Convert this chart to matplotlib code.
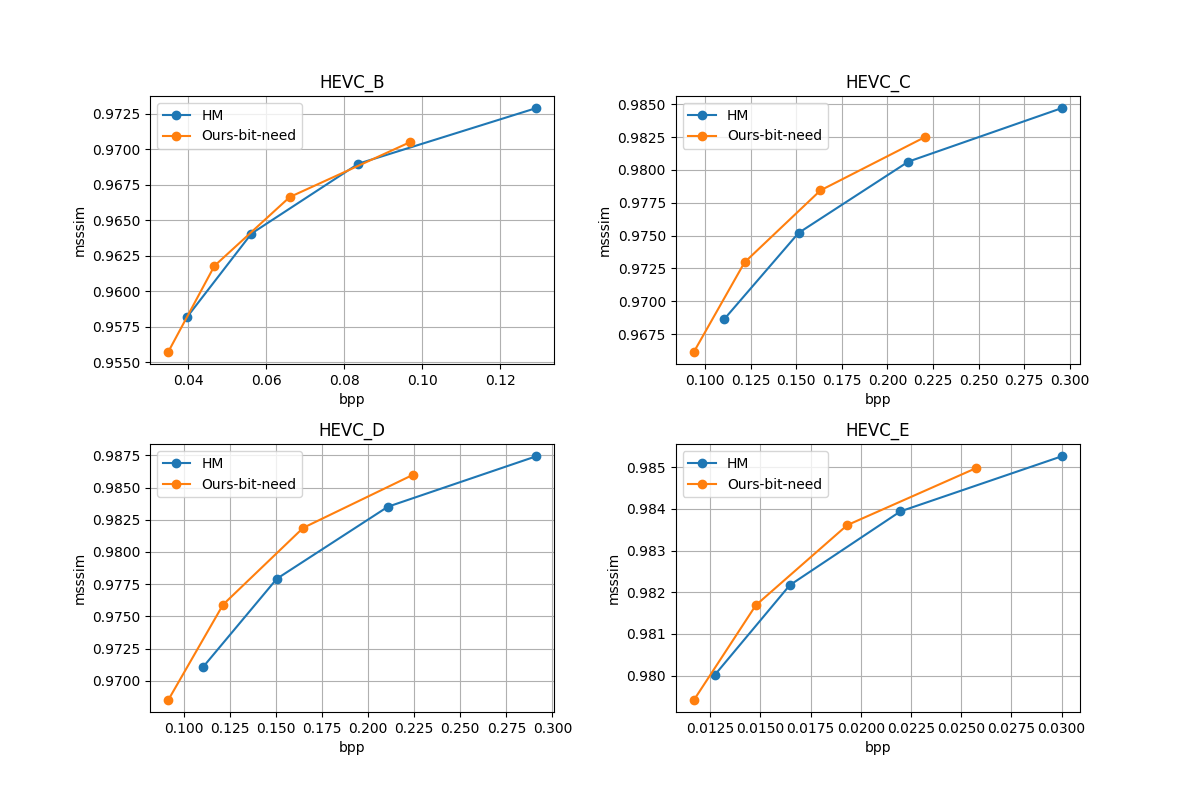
import matplotlib
matplotlib.use("Agg")
import matplotlib.pyplot as plt

titles = ["HEVC_B", "HEVC_C", "HEVC_D", "HEVC_E"]

hm_bpp = [
    [0.0397, 0.0562, 0.0836, 0.1291],
    [0.1104, 0.1513, 0.2115, 0.2955],
    [0.1103, 0.1504, 0.2107, 0.2911],
    [0.01273, 0.01646, 0.02197, 0.0300],
]
hm_msssim = [
    [0.95819, 0.96407, 0.96899, 0.97290],
    [0.96861, 0.97520, 0.98063, 0.98470],
    [0.97106, 0.97792, 0.98351, 0.98742],
    [0.98002, 0.98217, 0.98394, 0.98526],
]
ours_bpp = [
    [0.0349, 0.0467, 0.0660, 0.0967],
    [0.0940, 0.1217, 0.1633, 0.2206],
    [0.0915, 0.1212, 0.1647, 0.2245],
    [0.01169, 0.01477, 0.01932, 0.02575],
]
ours_msssim = [
    [0.95575, 0.96179, 0.96664, 0.97049],
    [0.96616, 0.97296, 0.97844, 0.98250],
    [0.96852, 0.97591, 0.98187, 0.98600],
    [0.97942, 0.98169, 0.98361, 0.98498],
]

fig, axes = plt.subplots(2, 2, figsize=(12, 8), dpi=100)
fig.subplots_adjust(hspace=0.3, wspace=0.3)
for i, ax in enumerate(axes.flat):
    ax.plot(hm_bpp[i], hm_msssim[i], marker="o", label="HM")
    ax.plot(ours_bpp[i], ours_msssim[i], marker="o", label="Ours-bit-need")
    ax.set_title(titles[i])
    ax.set_xlabel("bpp")
    ax.set_ylabel("msssim")
    ax.grid(True)
    ax.legend(loc="upper left")

fig.savefig("out.png")
